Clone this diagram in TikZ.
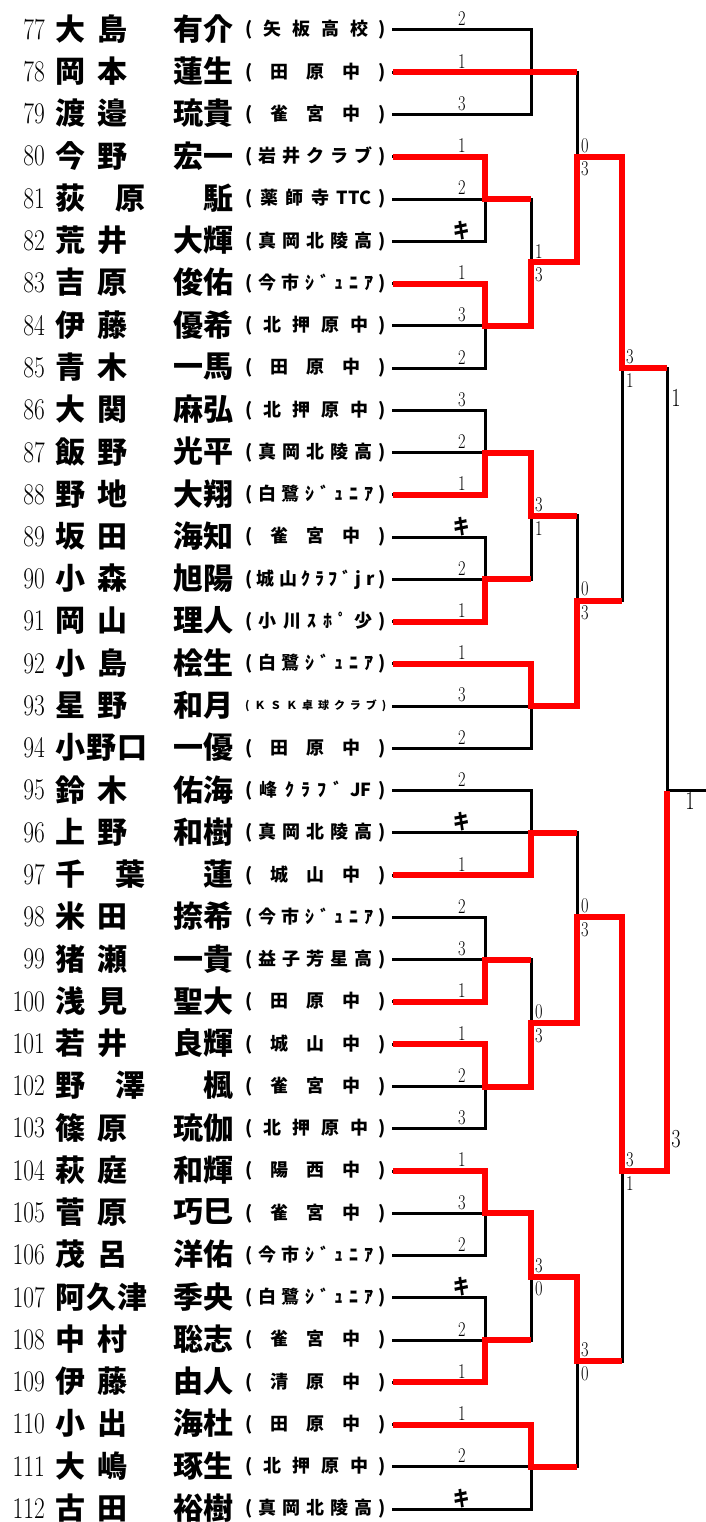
\documentclass[tikz,border=0pt]{standalone}
\usepackage{fontspec}
\usepackage{graphicx}
\usetikzlibrary{positioning,calc}
\newfontfamily\jpfont{Noto Sans CJK JP}

% spread the tokens of a list evenly over the box that holds them
\def\spreadit#1{#1\spreadrest}
\def\spreadrest#1{\ifx\endspread#1\else\hfil#1\expandafter\spreadrest\fi}
\let\endspread\relax
\newcommand\narrowed[1]{\scalebox{0.78}[1]{#1}}
\newcommand\kimark{{\jpfont\bfseries キ}}

\begin{document}
\begin{tikzpicture}[
    x=1pt, y=-1pt,
    bline/.style={line width=3pt, line cap=rect},
    rline/.style={line width=6pt, red},
    numtxt/.style={anchor=east, inner sep=0pt, font={\fontsize{30}{30}\selectfont}},
    nametxt/.style={inner sep=0pt, font={\jpfont\bfseries\fontsize{30}{30}\selectfont}},
    afftxt/.style={anchor=west, inner sep=0pt, font={\jpfont\bfseries\fontsize{18}{18}\selectfont}},
    rank/.style={inner sep=0pt, font={\fontsize{21}{21}\selectfont}},
    score/.style={inner sep=0pt, font={\fontsize{21}{21}\selectfont}},
    bigscore/.style={inner sep=0pt, font={\fontsize{26}{26}\selectfont}}
]
    \useasboundingbox (0,0) rectangle (706,1522);

    % Half-row levels and bracket columns
    \foreach \k in {0,...,70} \coordinate (k\k) at (0,{30+21.13*\k});
    \foreach \c/\x in {0/393,1/485,2/531,3/577,4/622,5/667,6/706} \coordinate (c\c) at (\x,0);

    % Player rows: number, surname, given name, club, group rank, line to group column
    \foreach \num/\sur/\sw/\giv/\aff/\rk/\col [count=\i from 0] in {
        77/大島/72/有介/(矢板高校)/2/2,
        78/岡本/72/蓮生/(田原中)/1/2,
        79/渡邉/72/琉貴/(雀宮中)/3/2,
        80/今野/72/宏一/(岩井クラブ)/1/1,
        81/荻原/90/駈/(薬師寺{TTC})/2/1,
        82/荒井/72/大輝/(真岡北陵高)/\kimark/1,
        83/吉原/72/俊佑/(今市ｼﾞｭﾆｱ)/1/1,
        84/伊藤/72/優希/(北押原中)/3/1,
        85/青木/72/一馬/(田原中)/2/1,
        86/大関/72/麻弘/(北押原中)/3/1,
        87/飯野/72/光平/(真岡北陵高)/2/1,
        88/野地/72/大翔/(白鷺ｼﾞｭﾆｱ)/1/1,
        89/坂田/72/海知/(雀宮中)/\kimark/1,
        90/小森/72/旭陽/(城山ｸﾗﾌﾞjr)/2/1,
        91/岡山/72/理人/(小川ｽﾎﾟ少)/1/1,
        92/小島/72/桧生/(白鷺ｼﾞｭﾆｱ)/1/2,
        93/星野/72/和月/(ＫＳＫ卓球クラブ)/3/2,
        94/小野口/92/一優/(田原中)/2/2,
        95/鈴木/72/佑海/(峰ｸﾗﾌﾞ{JF})/2/2,
        96/上野/72/和樹/(真岡北陵高)/\kimark/2,
        97/千葉/90/蓮/(城山中)/1/2,
        98/米田/72/捺希/(今市ｼﾞｭﾆｱ)/2/1,
        99/猪瀬/72/一貴/(益子芳星高)/3/1,
        100/浅見/72/聖大/(田原中)/1/1,
        101/若井/72/良輝/(城山中)/1/1,
        102/野澤/90/楓/(雀宮中)/2/1,
        103/篠原/72/琉伽/(北押原中)/3/1,
        104/萩庭/72/和輝/(陽西中)/1/1,
        105/菅原/72/巧巳/(雀宮中)/3/1,
        106/茂呂/72/洋佑/(今市ｼﾞｭﾆｱ)/2/1,
        107/阿久津/92/季央/(白鷺ｼﾞｭﾆｱ)/\kimark/1,
        108/中村/72/聡志/(雀宮中)/2/1,
        109/伊藤/72/由人/(清原中)/1/1,
        110/小出/72/海杜/(田原中)/1/2,
        111/大嶋/72/琢生/(北押原中)/2/2,
        112/古田/72/裕樹/(真岡北陵高)/\kimark/2}{
        \pgfmathsetmacro\yy{30+42.26*\i}
        \coordinate (p\num) at (393,\yy);
        \node[numtxt] (n\num) at (45,\yy-0.5) {\narrowed{\num}};
        \node[nametxt, anchor=west] (s\num) at (55,\yy-1)
            {\hbox to \sw pt{\expandafter\spreadit\sur\endspread}};
        \node[nametxt, anchor=east] (g\num) at (234,\yy-1) {\giv};
        \node[afftxt] (a\num) at (245,\yy)
            {\ifnum\num=93 \fontsize{11}{11}\selectfont\fi
             \hbox to 141pt{\expandafter\spreadit\aff\endspread}};
        \node[rank] (r\num) at (462,\yy-11) {\narrowed{\rk}};
        \draw[bline] (p\num) -- (p\num -| c\col);
    }

    % Group brackets: vertical at the group column, output at the middle row
    \foreach \gtop/\col/\nxt in {0/2/3,6/1/2,12/1/2,18/1/2,24/1/2,30/2/3,
                                 36/2/3,42/1/2,48/1/2,54/1/2,60/1/2,66/2/3}{
        \pgfmathtruncatemacro\gmid{\gtop+2}
        \pgfmathtruncatemacro\gbot{\gtop+4}
        \draw[bline] (k\gtop -| c\col) -- (k\gbot -| c\col);
        \draw[bline] (k\gmid -| c\col) -- (k\gmid -| c\nxt);
    }

    % Knockout matches: column / upper / lower / output / scores / next column
    \foreach \col/\up/\lo/\out/\su/\sl/\nxt in {
        2/8/14/11/1/3/3, 3/2/11/6/0/3/4, 2/20/26/23/3/1/3, 3/23/32/27/0/3/4,
        4/6/27/16/3/1/5, 2/44/50/47/0/3/3, 3/38/47/42/0/3/4, 2/56/62/59/3/0/3,
        3/59/68/63/3/0/4, 4/42/63/54/3/1/5}{
        \draw[bline] (k\up -| c\col) -- (k\lo -| c\col);
        \draw[bline] (k\out -| c\col) -- (k\out -| c\nxt);
        \node[score, anchor=south west, xshift=4pt, yshift=4pt] (su\col-\out)
            at (k\out -| c\col) {\narrowed{\su}};
        \node[score, anchor=north west, xshift=4pt, yshift=-5pt] (sl\col-\out)
            at (k\out -| c\col) {\narrowed{\sl}};
    }

    % Final
    \draw[bline] (k16 -| c5) -- (k54 -| c5);
    \draw[bline] (k36 -| c5) -- (k36 -| c6);
    \node[bigscore, xshift=9pt, yshift=-30pt] (fu) at (k16 -| c5) {\narrowed{1}};
    \node[bigscore, xshift=9pt, yshift=32pt] (fl) at (k54 -| c5) {\narrowed{3}};
    \node[bigscore, xshift=23pt, yshift=-10.5pt] (champ) at (k36 -| c5) {\narrowed{1}};

    % Winners' paths
    \draw[rline] (p78) -- (p78 -| c3);
    \draw[rline] (p80) -| (k8 -| c1) -- (k8 -| c2);
    \draw[rline] (p83) -| (k14 -| c1) -| (k11 -| c2) -| (k6 -| c3) -| (k16 -| c4) -- (k16 -| c5);
    \draw[rline] (p88) -| (k20 -| c1) -| (k23 -| c2) -- (k23 -| c3);
    \draw[rline] (p91) -| (k26 -| c1) -- (k26 -| c2);
    \draw[rline] (p92) -| (k32 -| c2) -| (k27 -| c3) -- (k27 -| c4);
    \draw[rline] (p97) -| (k38 -| c2) -- (k38 -| c3);
    \draw[rline] (p100) -| (k44 -| c1) -- (k44 -| c2);
    \draw[rline] (p101) -| (k50 -| c1) -| (k47 -| c2) -| (k42 -| c3) -| (k54 -| c4) -| (k36 -| c5);
    \draw[rline] (p104) -| (k56 -| c1) -| (k59 -| c2) -| (k63 -| c3) -- (k63 -| c4);
    \draw[rline] (p109) -| (k62 -| c1) -- (k62 -| c2);
    \draw[rline] (p110) -| (k68 -| c2) -- (k68 -| c3);
\end{tikzpicture}
\end{document}
